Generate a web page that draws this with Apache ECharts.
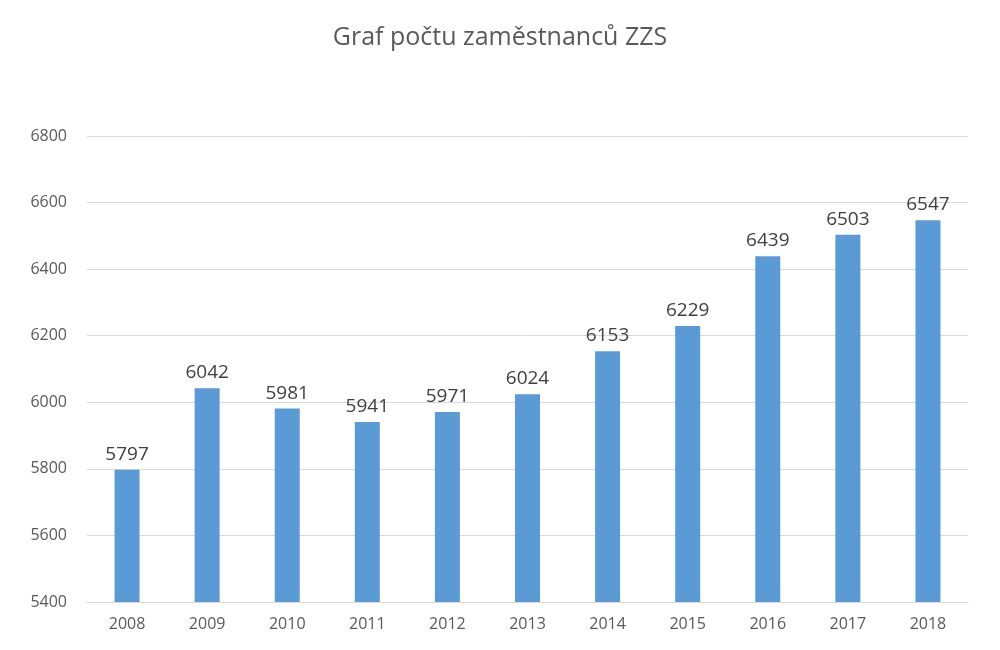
<html>
    <head>
        <meta charset="utf-8">
        <script src="https://cdn.jsdelivr.net/npm/echarts@6/dist/echarts.min.js"></script>
        <style>
            html, body { margin: 0; padding: 0; background: #fff; }
            #main { width: 1000px; height: 650px; }
        </style>
    </head>
    <body>
        <div id="main"></div>
        <script>

        var years = ['2008', '2009', '2010', '2011', '2012', '2013', '2014', '2015', '2016', '2017', '2018'];
        var employees = [5797, 6042, 5981, 5941, 5971, 6024, 6153, 6229, 6439, 6503, 6547];

        var textColor = '#595959';
        var fontFamily = '"Open Sans", "DejaVu Sans", sans-serif';

        var option = {
            backgroundColor: '#fff',
            animation: false,
            title: {
                text: 'Graf počtu zaměstnanců ZZS',
                left: 'center',
                top: 20,
                textStyle: {
                    color: textColor,
                    fontSize: 25,
                    fontWeight: 'normal',
                    fontFamily: fontFamily
                }
            },
            grid: {
                left: 87,
                right: 32,
                top: 136,
                bottom: 48
            },
            xAxis: {
                type: 'category',
                data: years,
                axisLine: { lineStyle: { color: '#d9d9d9' } },
                axisTick: { show: false },
                axisLabel: {
                    color: textColor,
                    fontSize: 16,
                    margin: 14,
                    fontFamily: fontFamily
                }
            },
            yAxis: {
                type: 'value',
                min: 5400,
                max: 6800,
                interval: 200,
                axisLine: { show: false },
                axisTick: { show: false },
                splitLine: { lineStyle: { color: '#d9d9d9' } },
                axisLabel: {
                    color: textColor,
                    fontSize: 16,
                    margin: 20,
                    fontFamily: fontFamily,
                    formatter: function (v) { return String(v); }
                }
            },
            series: [
                {
                    type: 'bar',
                    data: employees,
                    barWidth: 25,
                    itemStyle: { color: '#5b9bd5' },
                    label: {
                        show: true,
                        position: 'top',
                        distance: 6,
                        color: '#404040',
                        fontSize: 19,
                        fontFamily: fontFamily
                    }
                }
            ]
        };

        var myChart = echarts.init(document.getElementById('main'));
        myChart.setOption(option);

        </script>
    </body>
</html>
